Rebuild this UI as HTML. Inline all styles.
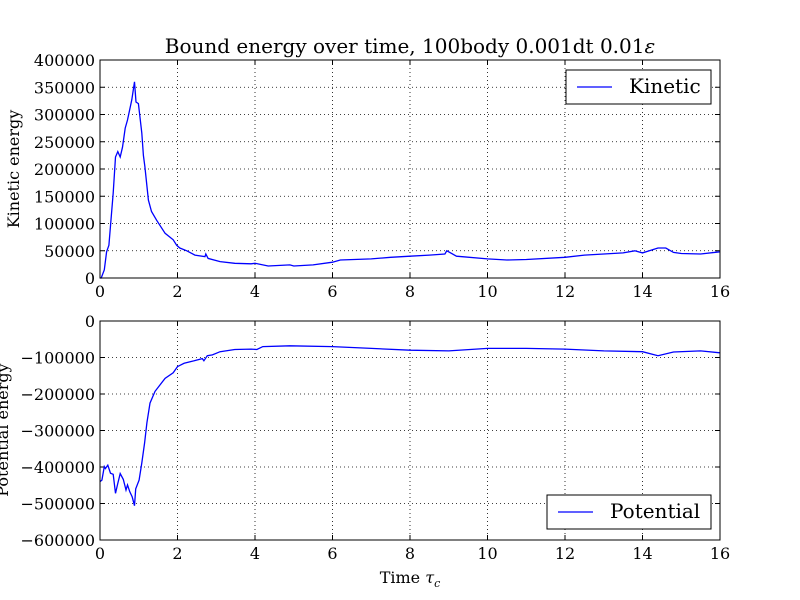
<!DOCTYPE html>
<html><head><meta charset="utf-8"><style>
body{margin:0;background:#fff}
svg{display:block;font-family:"DejaVu Serif","Liberation Serif",serif}
</style></head><body>
<svg id="chart" width="800" height="600" viewBox="0 0 800 600" xmlns="http://www.w3.org/2000/svg">
<rect width="800" height="600" fill="#fff"/>
<text x="410" y="53" font-size="20" text-anchor="middle">Bound energy over time, 100body 0.001dt 0.01<tspan font-style="italic">ε</tspan></text>
<text x="410" y="583" font-size="16" text-anchor="middle">Time <tspan font-style="italic">τ</tspan><tspan font-style="italic" font-size="11" dy="4">c</tspan></text>
<text transform="translate(19,169) rotate(-90)" font-size="16" text-anchor="middle">Kinetic energy</text>
<text transform="translate(8,430) rotate(-90)" font-size="16" text-anchor="middle">Potential energy</text>
<g id="top"></g><g id="bot"></g>
</svg>
<script>
const xTicks=[0,2,4,6,8,10,12,14,16];
const kinTicks=[0,50000,100000,150000,200000,250000,300000,350000,400000];
const potTicks=[0,-100000,-200000,-300000,-400000,-500000,-600000];
const kinT=[0,0.03,0.11,0.17,0.23,0.34,0.4,0.46,0.52,0.58,0.65,0.71,0.82,0.89,0.93,0.99,1.08,1.12,1.16,1.25,1.33,1.46,1.68,1.89,1.98,2.06,2.24,2.45,2.71,2.73,2.79,3.1,3.48,3.9,4.0,4.34,4.9,5.0,5.5,6.0,6.2,7.0,7.5,8.0,8.5,8.9,8.95,9.2,10,10.5,11,12,12.5,13,13.5,13.8,14,14.4,14.6,14.8,15,15.5,16];
const kinV=[0,0,15000,48000,60000,156000,222000,232000,222000,240000,275000,290000,327000,360000,323000,320000,266000,225000,204000,143000,122000,106000,82000,70000,60000,55000,50000,42000,39000,44000,36000,30000,27000,26000,27000,22000,24000,22000,24000,29000,33000,35000,38000,40000,42000,44000,50000,40000,35000,33000,34000,38000,42000,44000,46000,50000,46000,55000,55000,47000,45000,44000,48000];
const potT=[0,0.05,0.11,0.14,0.2,0.27,0.34,0.4,0.46,0.52,0.6,0.67,0.71,0.77,0.83,0.89,0.92,1.01,1.08,1.15,1.21,1.29,1.42,1.68,1.89,2.0,2.17,2.43,2.64,2.68,2.77,2.9,3.1,3.48,3.9,4.05,4.2,4.9,6,7,8,9,10,11,12,13,14,14.4,14.8,15.5,16];
const potV=[-440000,-436000,-399000,-404000,-395000,-417000,-420000,-472000,-445000,-418000,-434000,-463000,-449000,-468000,-482000,-506000,-460000,-436000,-389000,-334000,-279000,-225000,-193000,-157000,-142000,-125000,-116000,-109000,-103000,-109000,-95000,-93000,-84000,-78000,-77000,-78000,-70000,-68000,-70000,-75000,-80000,-82000,-75000,-75000,-77000,-82000,-84000,-95000,-85000,-82000,-87000];
const NS="http://www.w3.org/2000/svg";
function mk(tag,attrs,parent,txt){const e=document.createElementNS(NS,tag);for(const k in attrs)e.setAttribute(k,attrs[k]);if(txt!==undefined)e.textContent=txt;parent.appendChild(e);return e;}
const L=100,R=720;
const xs=t=>L+(t-xTicks[0])/(xTicks[xTicks.length-1]-xTicks[0])*(R-L);
function fmt(v){return v<0?"\u2212"+(-v):String(v);}
function panel(g,top,bottom,yt,ts,vs,name,legend,lx,ly,lw){
  const ymin=Math.min(...yt),ymax=Math.max(...yt);
  const ys=v=>bottom-(v-ymin)/(ymax-ymin)*(bottom-top);
  xTicks.forEach(t=>{const x=xs(t);
    const gl=mk('line',{x1:x,x2:x,y1:top,y2:bottom,stroke:'#000','stroke-width':0.8,'stroke-dasharray':'1,3'},g);
    
    
    mk('line',{x1:x,x2:x,y1:bottom,y2:bottom-5,stroke:'#000'},g);
    mk('line',{x1:x,x2:x,y1:top,y2:top+5,stroke:'#000'},g);
    const tl=mk('text',{x:x,y:bottom+19,'font-size':16,'text-anchor':'middle'},g,String(t));
    
    
  });
  yt.forEach(v=>{const y=ys(v);
    const gl=mk('line',{x1:L,x2:R,y1:y,y2:y,stroke:'#000','stroke-width':0.8,'stroke-dasharray':'1,3'},g);
    
    
    mk('line',{x1:L,x2:L+5,y1:y,y2:y,stroke:'#000'},g);
    mk('line',{x1:R,x2:R-5,y1:y,y2:y,stroke:'#000'},g);
    const tl=mk('text',{x:L-5,y:y+6,'font-size':16,'text-anchor':'end'},g,fmt(v));
    
    
  });
  const d=ts.map((t,i)=>(i?'L':'M')+xs(t).toFixed(1)+','+ys(vs[i]).toFixed(1)).join('');
  const p=mk('path',{d:d,fill:'none',stroke:'#0000ff','stroke-width':1.3},g);
  
  
  const fr=mk('rect',{x:L,y:top,width:R-L,height:bottom-top,fill:'none',stroke:'#000','stroke-width':1},g);
  
  
  const lg=mk('g',{},g);
  
  
  mk('rect',{x:lx,y:ly,width:lw,height:34,fill:'#fff',stroke:'#000'},lg);
  mk('line',{x1:lx+11,x2:lx+46,y1:ly+17,y2:ly+17,stroke:'#0000ff','stroke-width':1.3},lg);
  mk('text',{x:lx+63,y:ly+23,'font-size':20},lg,legend);
}
panel(document.getElementById('top'),60,278,kinTicks,kinT,kinV,'kinetic','Kinetic',566,70,145);
panel(document.getElementById('bot'),321,540,potTicks,potT,potV,'potential','Potential',547,495,164);
</script>
</body></html>
